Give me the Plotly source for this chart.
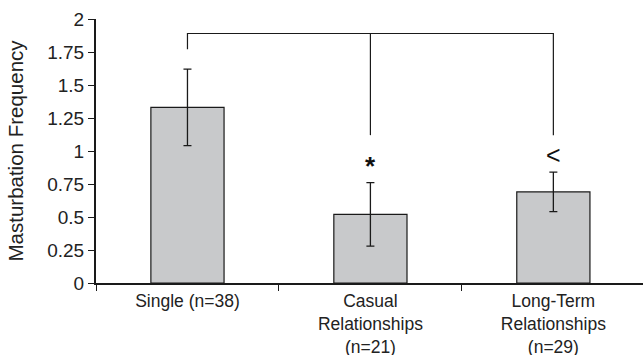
import plotly.graph_objects as go

categories = ["Single (n=38)", "Casual<br>Relationships<br>(n=21)", "Long-Term<br>Relationships<br>(n=29)"]
means = [1.33, 0.52, 0.69]
errors = [0.29, 0.24, 0.15]
y_ticks = [0, 0.25, 0.5, 0.75, 1, 1.25, 1.5, 1.75, 2]
y_tick_labels = ["0", "0.25", "0.5", "0.75", "1", "1.25", "1.5", "1.75", "2"]

# significance bracket
bracket_top = 1.89
bracket_ends = [1.77, 1.12, 1.12]
markers = ["", "*", "<"]
marker_y = [None, 0.89, 0.97]

FONT = "Liberation Sans, Arial, sans-serif"
TXT = "#222222"

fig = go.Figure()
fig.add_trace(go.Bar(
    x=categories, y=means, width=0.40,
    marker=dict(color="#c8c9cb", line=dict(color="#1a1a1a", width=1.2)),
    error_y=dict(type="data", array=errors, visible=True, color="#1a1a1a", thickness=1.3, width=4),
    showlegend=False, hoverinfo="skip",
))

fig.add_trace(go.Scatter(
    x=[categories[0], categories[0], categories[2], categories[2]],
    y=[bracket_ends[0], bracket_top, bracket_top, bracket_ends[2]],
    mode="lines", line=dict(color="#1a1a1a", width=1.2),
    showlegend=False, hoverinfo="skip",
))
fig.add_trace(go.Scatter(
    x=[categories[1], categories[1]],
    y=[bracket_top, bracket_ends[1]],
    mode="lines", line=dict(color="#1a1a1a", width=1.2),
    showlegend=False, hoverinfo="skip",
))

for c, m, yy in zip(categories, markers, marker_y):
    if m:
        fig.add_annotation(
            x=c, y=yy, text=("<b>*</b>" if m == "*" else "&lt;"), showarrow=False,
            font=dict(family=FONT, size=26 if m == "*" else 25, color="#111111"),
            yanchor="middle",
        )

fig.update_layout(
    width=643, height=355,
    margin=dict(l=96, r=0, t=19, b=72),
    plot_bgcolor="white", paper_bgcolor="white",
    font=dict(family=FONT, size=18, color=TXT),
)
fig.update_xaxes(
    type="category", tickson="boundaries", ticks="outside", ticklen=6, tickwidth=1.2,
    tickcolor="#1a1a1a", showline=True, linecolor="#1a1a1a", linewidth=2,
    showgrid=False, zeroline=False, range=[-0.5, 2.49], automargin=False,
    tickfont=dict(family=FONT, size=17.5, color=TXT), ticklabelstandoff=1,
)
fig.update_yaxes(
    range=[0, 2], tickvals=y_ticks, ticktext=y_tick_labels,
    ticks="outside", ticklen=6, tickwidth=1.2, tickcolor="#1a1a1a",
    showline=True, linecolor="#1a1a1a", linewidth=2,
    showgrid=False, zeroline=False, automargin=False,
    tickfont=dict(family=FONT, size=19, color=TXT),
    title=dict(text="Masturbation Frequency", font=dict(family=FONT, size=20.5, color=TXT), standoff=18),
)

fig.write_html("out.html")
